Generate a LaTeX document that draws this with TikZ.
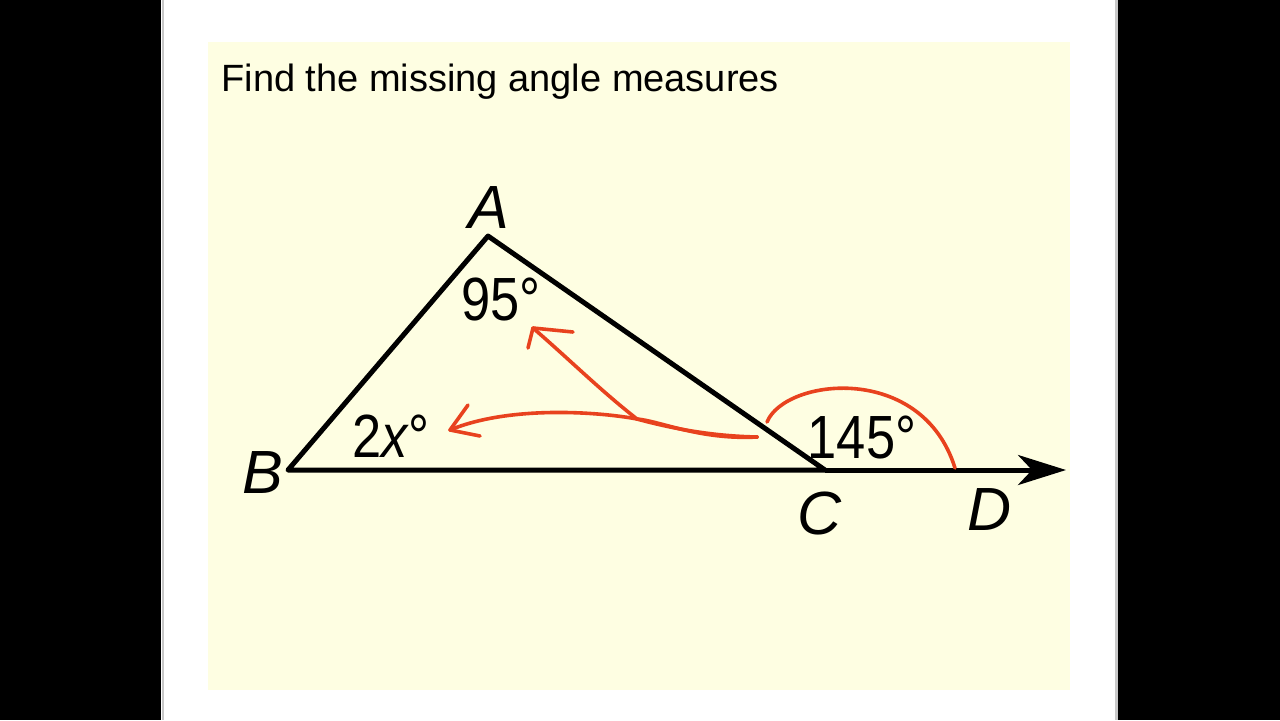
\documentclass[tikz,border=0pt]{standalone}
\usepackage{fontspec}
\setmainfont{Liberation Sans}
\usetikzlibrary{arrows.meta}
\definecolor{paneyellow}{RGB}{254,254,226}
\definecolor{penred}{RGB}{232,66,30}
\definecolor{edgegrey}{RGB}{200,200,200}
\tikzset{
  side/.style={line width=2.5pt, line join=round},
  vlabel/.style={inner sep=0pt, anchor=base, font=\fontsize{30.5}{36}\selectfont\itshape},
  anglabel/.style={inner sep=0pt, anchor=base, xscale=0.86, font=\fontsize{30.5}{36}\selectfont},
  pen/.style={penred, line width=1.8pt, line cap=round, line join=round},
}
\begin{document}
\begin{tikzpicture}[x=0.5pt,y=-0.5pt]
\useasboundingbox (0,0) rectangle (1280,720);
\fill[black] (0,0) rectangle (1280,720);
\fill[white] (161,0) rectangle (1118,720);
\draw[edgegrey, line width=1pt] (163,0) -- (163,720);
\draw[edgegrey, line width=1.5pt] (1116,0) -- (1116,720);
\fill[paneyellow] (208,42) rectangle (1070,690);
\node[inner sep=0pt, anchor=base west, font=\fontsize{19}{23}\selectfont] (title) at (221,91) {Find the missing angle measures};
% triangle
\coordinate (A) at (488,236);
\coordinate (B) at (288,470);
\coordinate (C) at (825,470);
\coordinate (D) at (1066,470);
\draw[side] (C) -- (B) -- (A) -- cycle;
\draw[side, -{Stealth[length=24pt,width=15pt,inset=7pt]}] (C) -- (D);
% vertex labels
\node[vlabel] (lA) at (489,228) {A};
\node[vlabel] (lB) at (263,493) {B};
\node[vlabel] (lC) at (820,534) {C};
\node[vlabel] (lD) at (990,530) {D};
% angle labels
\node[anglabel] (a95) at (501,320) {95°};
\node[anglabel] (a145) at (862,458) {145°};
\node[anglabel] (a2x) at (391,457) {2\textit{x}°};
% red annotations
\coordinate (arcS) at (767,422);
\coordinate (arcE) at (955,468);
\draw[pen] (arcS) .. controls (785,378) and (922,362) .. (arcE);
\coordinate (s1) at (757,437);
\coordinate (fork) at (637,419);
\coordinate (tip1) at (450,430);
\coordinate (tip2) at (533,328);
\draw[pen] (s1) .. controls (700,440) and (660,421) .. (fork) .. controls (600,412) and (510,405) .. (tip1);
\draw[pen] (s1) .. controls (710,436) and (670,428) .. (fork);
\draw[pen] (740,437) -- (s1);
\draw[pen] (tip1) -- (468,405);
\draw[pen] (tip1) -- (480,436);
\draw[pen] (fork) .. controls (600,390) and (570,360) .. (tip2);
\draw[pen] (tip2) -- (528,348);
\draw[pen] (tip2) -- (573,332);
\end{tikzpicture}
\end{document}
